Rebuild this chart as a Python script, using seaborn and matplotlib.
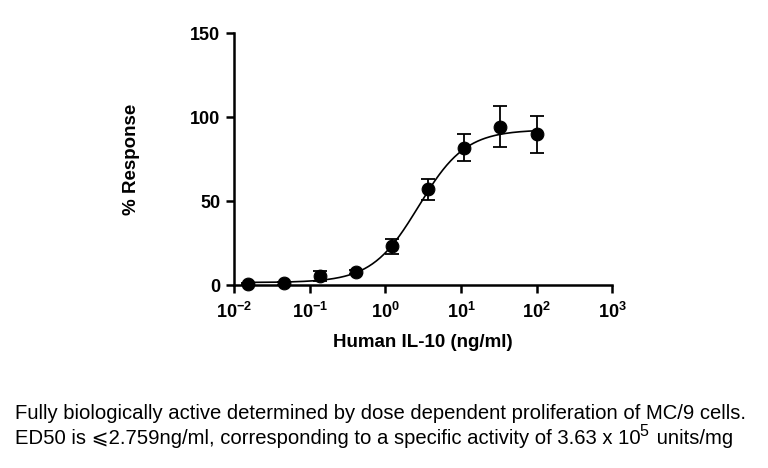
import numpy as np
import pandas as pd
import matplotlib
matplotlib.use("Agg")
import matplotlib.pyplot as plt
import seaborn as sns

# Données (dilutions 1:3 à partir de 100 ng/ml)
conc = [0.0152, 0.0457, 0.137, 0.412, 1.23, 3.70, 11.1, 33.3, 100.0]
response = [0.5, 1.0, 5.6, 7.6, 23.0, 57.0, 81.7, 94.4, 89.8]
sd = [0.5, 0.8, 3.0, 1.2, 4.5, 6.2, 8.0, 12.3, 11.0]

# Paramètres de l'ajustement 4PL
bottom, top, ed50, hill = 1.5, 92.5, 2.759, 1.4

caption1 = "Fully biologically active determined by dose dependent proliferation of MC/9 cells."
caption2 = ["ED50 is \u2a7d2.759ng/ml, corresponding to a specific activity of 3.63 x 10",
            "5", " units/mg"]

sns.set_style("ticks")
fams = ["Liberation Sans", "DejaVu Sans", "STIXGeneral"]
plt.rcParams["font.family"] = fams
plt.rcParams["mathtext.fontset"] = "custom"
plt.rcParams["mathtext.rm"] = "Liberation Sans"
plt.rcParams["mathtext.bf"] = "Liberation Sans:bold"
plt.rcParams["text.color"] = "black"
plt.rcParams["axes.labelcolor"] = "black"
plt.rcParams["xtick.color"] = "black"
plt.rcParams["ytick.color"] = "black"
plt.rcParams["axes.edgecolor"] = "black"

df = pd.DataFrame({"conc": conc, "response": response, "sd": sd})
xfit = np.logspace(np.log10(conc[0]), np.log10(conc[-1]), 300)
fit = pd.DataFrame({"conc": xfit,
                    "response": bottom + (top - bottom) / (1 + (ed50 / xfit) ** hill)})

fig = plt.figure(figsize=(7.68, 4.68), dpi=100)
ax = fig.add_axes([0.305, 0.391, 0.492, 0.538])

sns.lineplot(data=fit, x="conc", y="response", color="black", lw=1.2, ax=ax)
ax.errorbar(df["conc"], df["response"], yerr=df["sd"], fmt="none",
            ecolor="black", elinewidth=1.3, capsize=5, capthick=1.3, zorder=3)
sns.scatterplot(data=df, x="conc", y="response", color="black", s=85,
                edgecolor="black", zorder=4, clip_on=False, ax=ax)

ax.set_xscale("log")
ax.set_xlim(1e-2, 1e3)
ax.set_ylim(0, 150)
ax.set_yticks([0, 50, 100, 150])
ax.set_xticks([1e-2, 1e-1, 1e0, 1e1, 1e2, 1e3])
ax.xaxis.set_minor_locator(matplotlib.ticker.NullLocator())
sns.despine(ax=ax)
for s in ["left", "bottom"]:
    ax.spines[s].set_linewidth(1.8)
ax.tick_params(width=1.8, length=6, labelsize=13, pad=4)
ax.tick_params(axis="x", pad=6)
for lab in ax.get_xticklabels() + ax.get_yticklabels():
    lab.set_fontweight("bold")

ax.set_xlabel("Human IL-10 (ng/ml)", fontsize=13.5, fontweight="bold", labelpad=9)
ax.set_ylabel("% Response", fontsize=13.5, fontweight="bold", labelpad=36)

# Légende sous la figure
fs = 14.6
fig.text(0.02, 0.096, caption1, fontsize=fs, va="bottom")
t1 = fig.text(0.02, 0.042, caption2[0], fontsize=fs, va="bottom", family=fams)
t2 = ax.annotate(caption2[1], xy=(1, 0.5), xycoords=t1, xytext=(-1, 0),
                 textcoords="offset points", fontsize=11.5,
                 va="bottom", annotation_clip=False)
ax.annotate(caption2[2], xy=(1, 0), xycoords=(t2, t1), xytext=(2, 0),
            textcoords="offset points", fontsize=fs,
            va="bottom", annotation_clip=False)

fig.savefig("out.png", dpi=100)
